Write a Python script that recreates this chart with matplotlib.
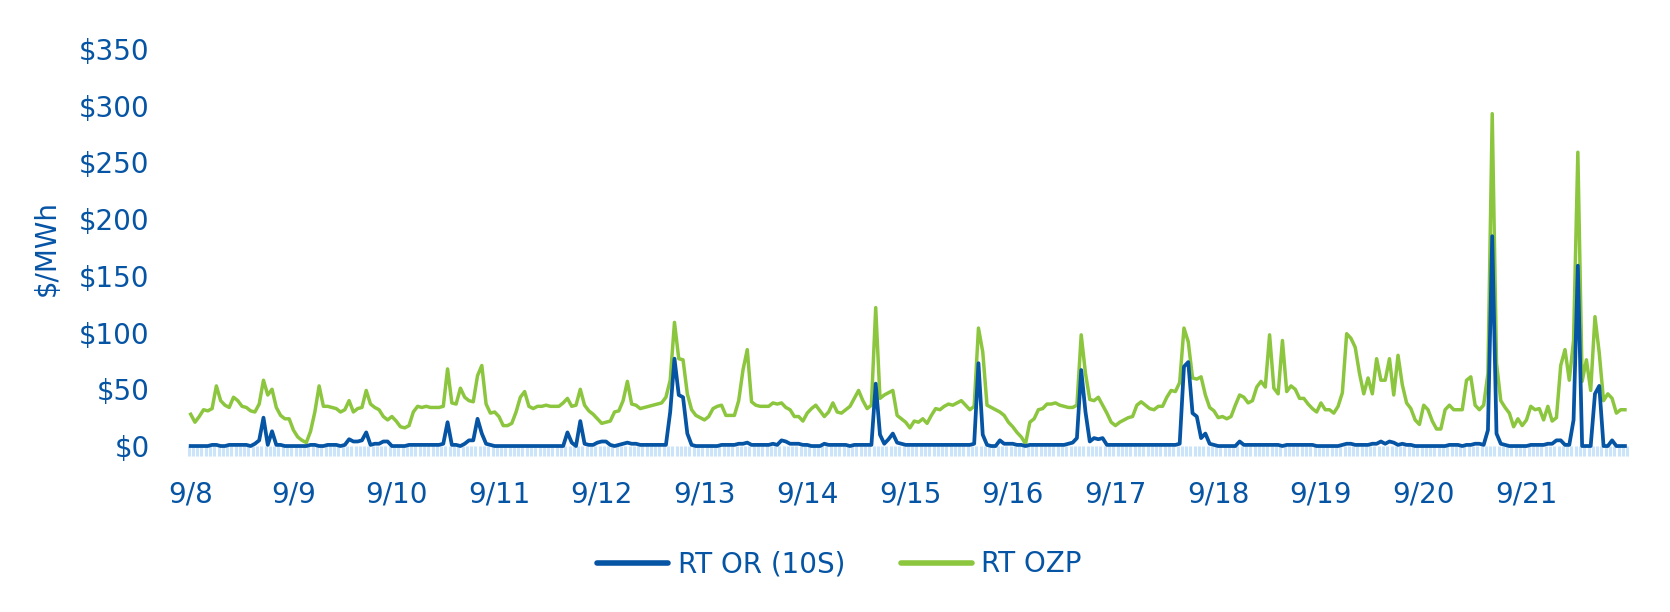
import numpy as np
import matplotlib.pyplot as plt
from matplotlib.ticker import FixedLocator, FuncFormatter

# hourly prices, 9/8 00:00 through 9/21 23:00
days = ["9/8", "9/9", "9/10", "9/11", "9/12", "9/13", "9/14",
        "9/15", "9/16", "9/17", "9/18", "9/19", "9/20", "9/21"]

rt_or_10s = [
    0, 0, 0, 0, 0, 1, 1, 0, 0, 1, 1, 1, 1, 1, 0, 2, 5, 25, 1, 13, 1, 1, 0, 0,
    0, 0, 0, 0, 1, 1, 0, 0, 1, 1, 1, 0, 1, 6, 4, 4, 5, 12, 1, 2, 2, 4, 4, 0,
    0, 0, 0, 1, 1, 1, 1, 1, 1, 1, 1, 2, 21, 1, 1, 0, 2, 5, 5, 24, 11, 2, 1, 0,
    0, 0, 0, 0, 0, 0, 0, 0, 0, 0, 0, 0, 0, 0, 0, 0, 12, 3, 0, 22, 2, 1, 1, 3,
    4, 4, 1, 0, 1, 2, 3, 2, 2, 1, 1, 1, 1, 1, 1, 1, 30, 77, 45, 43, 11, 1, 0, 0,
    0, 0, 0, 0, 1, 1, 1, 1, 2, 2, 3, 1, 1, 1, 1, 1, 2, 1, 5, 4, 2, 2, 2, 1,
    1, 0, 0, 0, 2, 1, 1, 1, 1, 1, 0, 1, 1, 1, 1, 1, 55, 10, 2, 6, 11, 3, 2, 1,
    1, 1, 1, 1, 1, 1, 1, 1, 1, 1, 1, 1, 1, 1, 1, 2, 73, 10, 1, 0, 0, 5, 2, 2,
    2, 1, 1, 0, 1, 1, 1, 1, 1, 1, 1, 1, 1, 2, 3, 7, 67, 30, 4, 7, 6, 7, 1, 1,
    1, 1, 1, 1, 1, 1, 1, 1, 1, 1, 1, 1, 1, 1, 1, 2, 70, 74, 29, 26, 7, 11, 2, 1,
    0, 0, 0, 0, 0, 4, 1, 1, 1, 1, 1, 1, 1, 1, 1, 0, 1, 1, 1, 1, 1, 1, 1, 0,
    0, 0, 0, 0, 0, 1, 2, 2, 1, 1, 1, 1, 2, 2, 4, 2, 4, 3, 1, 2, 1, 1, 0, 0,
    0, 0, 0, 0, 0, 0, 1, 1, 1, 0, 1, 1, 2, 2, 1, 14, 185, 11, 2, 1, 0, 0, 0, 0,
    0, 1, 1, 1, 1, 2, 2, 5, 5, 1, 1, 23, 159, 0, 0, 0, 46, 53, 0, 0, 5, 0, 0, 0,
]

rt_ozp = [
    28, 21, 26, 32, 31, 33, 53, 40, 36, 34, 43, 40, 35, 34, 31, 30, 37, 58, 45, 50, 34, 27, 24, 24,
    14, 8, 5, 3, 13, 30, 53, 35, 35, 34, 33, 30, 32, 40, 30, 33, 34, 49, 37, 34, 32, 26, 23, 26,
    22, 17, 16, 18, 30, 35, 34, 35, 34, 34, 34, 35, 68, 38, 37, 51, 43, 40, 39, 62, 71, 37, 29, 30,
    26, 18, 18, 20, 30, 43, 48, 35, 33, 35, 35, 36, 35, 35, 35, 38, 42, 35, 36, 50, 36, 31, 28, 24,
    20, 21, 22, 30, 31, 40, 57, 37, 36, 33, 34, 35, 36, 37, 38, 43, 58, 109, 77, 76, 46, 32, 27, 25,
    23, 26, 33, 35, 36, 27, 27, 27, 40, 67, 85, 39, 36, 35, 35, 35, 38, 37, 38, 34, 32, 26, 26, 22,
    29, 33, 36, 31, 26, 30, 38, 30, 29, 32, 35, 42, 49, 40, 33, 36, 122, 42, 45, 47, 49, 27, 24, 21,
    16, 22, 21, 24, 20, 27, 33, 32, 35, 37, 36, 38, 40, 36, 32, 35, 104, 83, 36, 34, 32, 30, 27, 21,
    17, 12, 8, 2, 21, 24, 32, 33, 37, 37, 38, 36, 35, 34, 34, 36, 98, 64, 41, 40, 43, 36, 29, 21,
    18, 21, 23, 25, 26, 36, 39, 36, 33, 32, 35, 35, 43, 49, 48, 56, 104, 92, 60, 59, 61, 45, 34, 31,
    25, 26, 24, 26, 36, 45, 43, 38, 40, 52, 57, 52, 98, 51, 46, 93, 48, 53, 50, 42, 42, 37, 33, 30,
    38, 32, 32, 29, 35, 47, 99, 95, 87, 64, 46, 60, 46, 77, 58, 58, 77, 45, 80, 54, 38, 33, 23, 19,
    36, 32, 22, 15, 15, 32, 36, 32, 32, 32, 58, 61, 36, 32, 36, 64, 293, 73, 40, 34, 29, 17, 24, 18,
    23, 35, 32, 33, 23, 35, 22, 25, 71, 85, 58, 93, 259, 57, 76, 49, 114, 82, 40, 46, 42, 29, 32, 32,
]

blue = "#0654a4"
green = "#8cc63f"
strip = "#cbe4fa"

plt.rcParams['font.family'] = ['DejaVu Sans']

hours = np.arange(len(rt_ozp))

fig = plt.figure(figsize=(16.7, 6.12), dpi=100)
ax = fig.add_axes([0.1129, 0.2712, 0.8614, 0.6487])

l2, = ax.plot(hours, rt_ozp, color=green, lw=2.5, label="RT OZP", clip_on=False, zorder=3)
l1, = ax.plot(hours, rt_or_10s, color=blue, lw=2.7, label="RT OR (10S)", clip_on=False, zorder=4)

ax.set_xlim(-0.5, len(hours) - 0.5)
ax.set_ylim(0, 350)

for s in ax.spines.values():
    s.set_visible(False)

ax.set_yticks(np.arange(0, 351, 50))
ax.yaxis.set_major_formatter(FuncFormatter(lambda v, p: f"${v:.0f}"))
ax.tick_params(axis="y", length=0, pad=28, labelsize=20, labelcolor=blue)

ax.set_xticks(np.arange(0, len(hours), 24))
ax.set_xticklabels(days)
ax.xaxis.set_minor_locator(FixedLocator(np.arange(len(hours) + 1) - 0.5))
ax.tick_params(axis="x", which="major", length=0, pad=25, labelsize=20, labelcolor=blue)
ax.tick_params(axis="x", which="minor", length=7.2, width=2.2, color=strip, direction="out")

fig.text(47 / 1670, 1 - 248 / 612, "$/MWh", rotation=90, ha="center", va="center",
         fontsize=20, color=blue)

leg = fig.legend(handles=[l1, l2], loc="center", bbox_to_anchor=(0.5027, 0.078),
                 ncol=2, frameon=False, fontsize=20, handlelength=2.55,
                 handletextpad=0.35, columnspacing=2.0)
for t in leg.get_texts():
    t.set_color(blue)
for h in leg.get_lines():
    h.set_linewidth(4)
    h.set_solid_capstyle("round")

fig.savefig("out.png", dpi=100)
